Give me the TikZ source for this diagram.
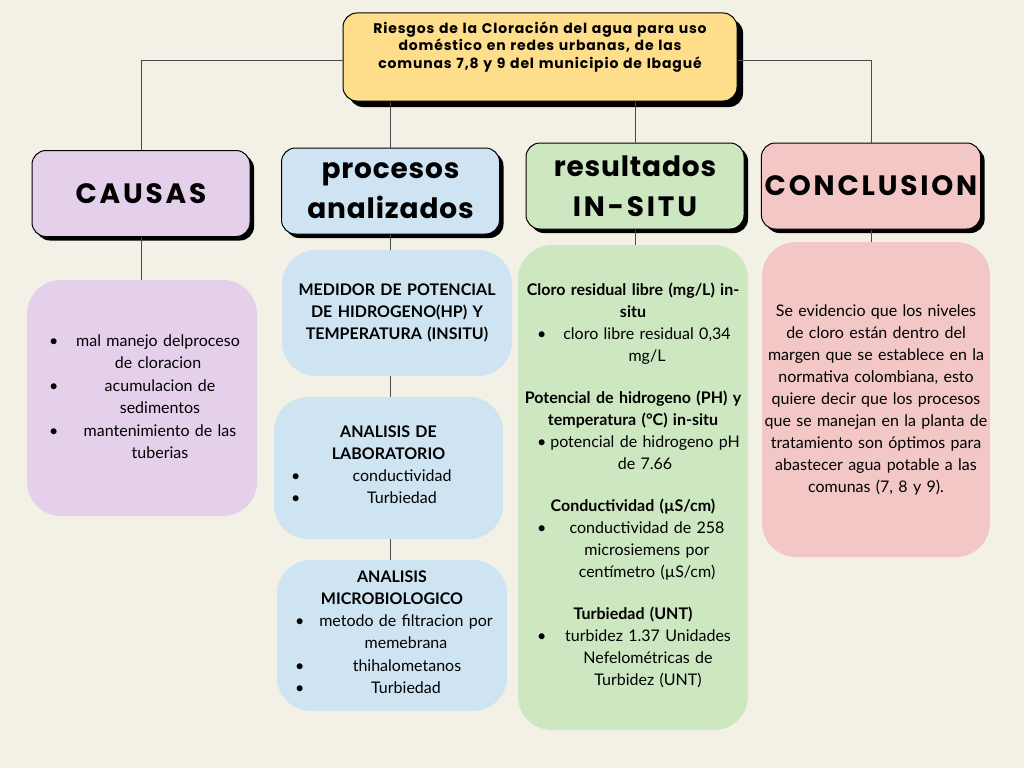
\documentclass[tikz,border=0pt]{standalone}
\usepackage{fontspec}
\setmainfont{Lato}
\newfontfamily\hfont[LetterSpace=10]{Poppins}
\newfontfamily\lfont[LetterSpace=3]{Poppins}
\newfontfamily\tfont[LetterSpace=6]{Poppins}
\usetikzlibrary{positioning,shadows}
\definecolor{bgc}{HTML}{F3F1E6}
\definecolor{titc}{HTML}{FEDD8B}
\definecolor{lilac}{HTML}{E5D0EB}
\definecolor{sky}{HTML}{CEE4F2}
\definecolor{mint}{HTML}{CDE7C1}
\definecolor{rose}{HTML}{F4C7C7}
\definecolor{linec}{HTML}{4A4A4A}
\newcommand\bfnt{\fontsize{16}{22}\selectfont\parindent=0pt}
\newcommand\hfnt{\bfseries\fontsize{28}{40}\selectfont}
\newcommand\bul[3]{\hbox to\hsize{\rlap{\hspace*{#1pt}\textbullet}\rlap{\hspace*{#2pt}\makebox[0pt]{\begin{tabular}[t]{@{}c@{}}#3\end{tabular}}}\hss}}
\tikzset{
  tbox/.style={draw=black,line width=1pt,fill=titc,rounded corners=14pt,
    minimum width=394pt,minimum height=88pt,text width=380pt,align=center,
    font=\tfont\bfseries\fontsize{14}{17.5}\selectfont,
    drop shadow={fill=black,opacity=1,shadow xshift=6pt,shadow yshift=-6pt}},
  hbox/.style={draw=black,line width=1pt,fill=#1,rounded corners=14pt,
    minimum width=218pt,minimum height=86pt,align=center,font=\hfnt,
    drop shadow={fill=black,opacity=1,shadow xshift=4pt,shadow yshift=-4pt}},
  cbox/.style={fill=#1,rounded corners=34pt,inner sep=0pt,minimum width=230pt,
    text width=230pt,align=center,font=\bfnt},
  link/.style={draw=linec,line width=1pt}
}
\begin{document}
\begin{tikzpicture}[x=1pt,y=-1pt]
  \fill[bgc] (0,0) rectangle (1024,768);
  \node[tbox] (T) at (540,57) {Riesgos de la Cloración del agua para uso\\ doméstico en redes urbanas, de las\\ comunas 7,8 y 9 del municipio de Ibagué\rule[-24pt]{0pt}{0pt}};
  %
  \node[hbox=lilac] (A) at (141,193.5) {\hfont CAUSAS};
  \node[hbox=sky]   (B) at (390.5,191) {\lfont procesos\\ \lfont analizados};
  \node[hbox=mint]  (C) at (635,186)   {\lfont resultados\\ \hfont IN-SITU};
  \node[hbox=rose]  (D) at (871,186)   {\hfont CONCLUSION};
  %
  \node[cbox=lilac,minimum height=236pt] (E) at (142,398) {%
    \bul{22}{131}{mal manejo delproceso\\ de cloracion}\par
    \bul{22}{133}{acumulacion de\\ sedimentos}\par
    \bul{22}{133}{mantenimiento de las\\ tuberias}};
  \node[cbox=sky,minimum height=126pt] (F) at (397,313) {%
    \textbf{MEDIDOR DE POTENCIAL}\\ \textbf{DE HIDROGENO(HP) Y}\\ \textbf{TEMPERATURA (INSITU)}};
  \node[cbox=sky,minimum height=142pt,minimum width=229pt,text width=229pt] (G) at (388.5,468) {%
    \textbf{ANALISIS DE}\\ \textbf{LABORATORIO}\par
    \bul{17}{128}{conductividad}\par
    \bul{17}{128}{Turbiedad}};
  \node[cbox=sky,minimum height=151pt] (H) at (392,635.5) {%
    \textbf{ANALISIS}\\ \textbf{MICROBIOLOGICO}\par
    \bul{18}{129}{metodo de filtracion por\\ memebrana}\par
    \bul{18}{130}{thihalometanos}\par
    \bul{18}{129}{Turbiedad}};
  \node[cbox=mint,minimum height=485pt] (I) at (633,487.5) {%
    \textbf{Cloro residual libre (mg/L) in-}\\ \textbf{situ}\par
    \bul{19}{129}{cloro libre residual 0,34\\ mg/L}\par\vskip22pt
    \textbf{Potencial de hidrogeno (PH) y}\\ \textbf{temperatura (°C) in-situ}\par
    \bul{19}{127}{potencial de hidrogeno pH\\ de 7.66}\par\vskip22pt
    \textbf{Conductividad (µS/cm)}\par
    \bul{19}{129}{conductividad de 258\\ microsiemens por\\ centímetro (µS/cm)}\par\vskip22pt
    \textbf{Turbiedad (UNT)}\par
    \bul{19}{130}{turbidez 1.37 Unidades\\ Nefelométricas de\\ Turbidez (UNT)}};
  \node[cbox=rose,minimum height=315pt,minimum width=228pt,text width=228pt] (J) at (876,399.5) {%
    Se evidencio que los niveles\\ de cloro están dentro del\\ margen que se establece en la\\
    normativa colombiana, esto\\ quiere decir que los procesos\\ que se manejan en la planta de\\
    tratamiento son óptimos para\\ abastecer agua potable a las\\ comunas (7, 8 y 9).};
  %
  \draw[link] (A.north) |- ([yshift=-3pt]T.west);
  \draw[link] ([yshift=-3pt]T.east) -| (D.north);
  \draw[link] (B.north) -- (B.north |- T.south);
  \draw[link] (C.north) -- (C.north |- T.south);
  \draw[link] (A.south) -- (A.south |- E.north);
  \draw[link] (B.south) -- (B.south |- F.north);
  \draw[link] (F.south -| B.south) -- (G.north -| B.south);
  \draw[link] (G.south -| B.south) -- (H.north -| B.south);
  \draw[link] (C.south) -- (C.south |- I.north);
  \draw[link] (D.south) -- (D.south |- J.north);
\end{tikzpicture}
\end{document}
